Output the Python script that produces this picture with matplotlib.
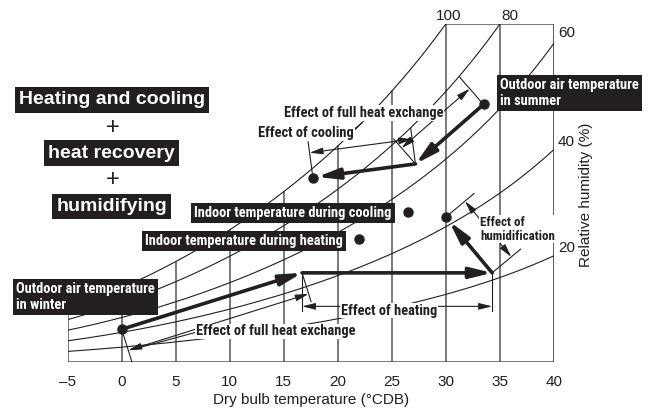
import numpy as np
import matplotlib
matplotlib.use('Agg')
import matplotlib.pyplot as plt
import matplotlib.font_manager as fm

# ---------------- data ----------------
temp_ticks = [-5, 0, 5, 10, 15, 20, 25, 30, 35, 40]
temp_labels = ['\u20135', '0', '5', '10', '15', '20', '25', '30', '35', '40']
sat_temp = [-5, 0, 5, 10, 15, 20, 25, 30, 35, 40]
sat_w = [4.32, 5.90, 8.08, 10.74, 13.73, 17.77, 21.57, 27.30, 34.09, 43.29]
rh_levels = [100, 80, 60, 40, 20]
rh_top_labels = ['100', '80']
rh_right_labels = ['60', '40', '20']
W_TOP = 27.3

winter_out = (0.0, 2.64)
winter_hx = (16.7, 7.2)
winter_heated = (34.3, 7.2)
winter_supply = (30.0, 11.7)
indoor_heat = (22.0, 9.9)
indoor_cool = (26.5, 12.1)
summer_out = (33.5, 20.8)
summer_hx = (27.2, 16.0)
summer_supply = (17.7, 14.9)

# ---------------- fonts ----------------
names = {f.name for f in fm.fontManager.ttflist}
NARROW = next((n for n in ['Roboto Condensed', 'Archivo Narrow', 'Liberation Sans Narrow', 'Liberation Sans'] if n in names), 'DejaVu Sans')
REG = 'Liberation Sans' if 'Liberation Sans' in names else 'DejaVu Sans'
INK = '#231f20'
GRID = '#555555'

W_PX, H_PX = 649, 412
fig = plt.figure(figsize=(W_PX / 100, H_PX / 100), dpi=100)
ax_l, ax_r, ax_b, ax_t = 67.7, 553.7, 362.0, 24.0
ax = fig.add_axes([ax_l / W_PX, 1 - ax_b / H_PX, (ax_r - ax_l) / W_PX, (ax_b - ax_t) / H_PX])
ax.set_xlim(-5, 40)
ax.set_ylim(0, W_TOP)
for s in ax.spines.values():
    s.set_visible(False)
ax.set_yticks([])
ax.set_xticks(temp_ticks)
ax.set_xticklabels(temp_labels, fontsize=11, family=REG, color=INK)
ax.tick_params(axis='x', length=0, pad=9)
ax.set_xlabel('Dry bulb temperature (\u00b0CDB)', fontsize=11, family=REG, color=INK, labelpad=3)

sx = (ax_r - ax_l) / 45.0
sy = (ax_b - ax_t) / W_TOP

wts = np.ones(len(sat_temp)); wts[7] = 10; wts[8] = 10
coef = np.polyfit(sat_temp, np.log(sat_w), 3, w=wts)
def sat(t):
    return np.exp(np.polyval(coef, t))

# frame and dry-bulb lines
ax.plot([-5, 40], [0, 0], color=GRID, lw=1.1, solid_capstyle='butt')
ax.plot([40, 40], [0, W_TOP], color=GRID, lw=1.1)
ax.plot([30, 40], [W_TOP, W_TOP], color=GRID, lw=1.1)
for t in temp_ticks:
    ax.plot([t, t], [0, min(sat(t), W_TOP)], color=GRID, lw=1.1)

# relative humidity curves
T = np.linspace(-5, 40, 901)
for rh in rh_levels:
    W = rh / 100 * sat(T)
    m = W <= W_TOP
    Tm, Wm = T[m], W[m]
    if not m.all():
        i = int(np.argmax(~m))
        tc = np.interp(W_TOP, [W[i - 1], W[i]], [T[i - 1], T[i]])
        Tm = np.append(Tm, tc); Wm = np.append(Wm, W_TOP)
    ax.plot(Tm, Wm, color=INK, lw=0.8)

# helpers in pixel space
def px(p):
    return np.array([p[0] * sx, p[1] * sy])
def dat(q):
    return (q[0] / sx, q[1] / sy)
def normal(p1, p2, side):
    d = px(p2) - px(p1)
    d = d / np.hypot(*d)
    return side * np.array([-d[1], d[0]])
def off(p, n, dist):
    return dat(px(p) + n * dist)

def thick(p0, p1, shrinkA=0, shrinkB=0):
    ax.annotate('', xy=p1, xytext=p0,
                arrowprops=dict(arrowstyle='-|>,head_length=1.3,head_width=0.32', lw=2.6,
                                color=INK, shrinkA=shrinkA, shrinkB=shrinkB, mutation_scale=10),
                zorder=5)

def thin(p0, p1):
    ax.plot([p0[0], p1[0]], [p0[1], p1[1]], color=INK, lw=0.8, zorder=4)

def dim(p0, p1):
    ax.annotate('', xy=p1, xytext=p0,
                arrowprops=dict(arrowstyle='<|-|>,head_length=0.8,head_width=0.2', lw=0.8,
                                color=INK, shrinkA=0, shrinkB=0, mutation_scale=10),
                zorder=4)

def dimension(p_a, p_b, side, ext_a, ext_b, d):
    n = normal(p_a, p_b, side)
    thin(p_a, off(p_a, n, ext_a))
    thin(p_b, off(p_b, n, ext_b))
    a, b = off(p_a, n, d), off(p_b, n, d)
    dim(a, b)
    return a, b

# dimension lines
dimension(summer_out, summer_hx, -1, 36, 33, 21)
dimension(summer_hx, summer_supply, -1, 36, 36, 25)
dimension(winter_out, winter_hx, -1, 37, 30, 22)
dimension(winter_hx, winter_heated, -1, 38, 38, 33.5)
dimension(winter_heated, winter_supply, -1, 37, 37, 25)

# thick process arrows
thick(summer_out, summer_hx, shrinkA=3)
thick(summer_hx, summer_supply, shrinkB=3)
thick(winter_out, winter_hx, shrinkA=3)
thick(winter_hx, winter_heated)
thick(winter_heated, winter_supply, shrinkB=4)

# points
pts = [winter_out, winter_supply, indoor_heat, indoor_cool, summer_out, summer_supply]
ax.plot([p[0] for p in pts], [p[1] for p in pts], 'o', color=INK, ms=6.5, zorder=6)

# ---------------- texts ----------------
def ftxt(x, y, s, **kw):
    return fig.text(x / W_PX, 1 - y / H_PX, s, **kw)
def fline(x0, y0, x1, y1):
    fig.add_artist(plt.Line2D([x0 / W_PX, x1 / W_PX], [1 - y0 / H_PX, 1 - y1 / H_PX], color=INK, lw=0.8, zorder=4))

box = dict(boxstyle='square,pad=0.22', fc=INK, ec='none')
white = dict(boxstyle='square,pad=0.05', fc='white', ec='none')

for (x, y, s) in [(112, 100, 'Heating and cooling'), (111.5, 153, 'heat recovery'), (111.5, 206.5, 'humidifying')]:
    ftxt(x, y, s, ha='center', va='center', fontsize=14, family=REG, weight='bold', color='white', bbox=box)
for y in (128, 180):
    ftxt(113, y, '+', ha='center', va='center', fontsize=17, family=REG, color=INK)

bkw = dict(fontsize=10.4, family=NARROW, weight='bold', color='white', bbox=box, zorder=7)
ftxt(500, 93, 'Outdoor air temperature\nin summer', ha='left', va='center', linespacing=1.1, **bkw)
ftxt(293, 213, 'Indoor temperature during cooling', ha='center', va='center', **bkw)
ftxt(244, 241, 'Indoor temperature during heating', ha='center', va='center', **bkw)
ftxt(16, 297, 'Outdoor air temperature\nin winter', ha='left', va='center', linespacing=1.1, **bkw)

ekw = dict(fontsize=10.4, family=NARROW, weight='bold', color=INK, bbox=white, zorder=7)
ftxt(363.5, 113, 'Effect of full heat exchange', ha='center', va='center', **ekw)
ftxt(306, 133.5, 'Effect of cooling', ha='center', va='center', **ekw)
ftxt(389, 310.5, 'Effect of heating', ha='center', va='center', **ekw)
ftxt(275.5, 331.5, 'Effect of full heat exchange', ha='center', va='center', **ekw)
ekw2 = dict(ekw); ekw2['fontsize'] = 9.3
ftxt(480, 229, 'Effect of\nhumidification', ha='left', va='center', linespacing=1.1, **ekw2)

# short leader lines
fline(353, 130, 362, 123)
fline(197, 332, 138, 348)

nkw = dict(fontsize=11, family=REG, color=INK)
for x, s in zip([448.5, 510], rh_top_labels):
    ftxt(x, 16, s, ha='center', va='center', **nkw)
for y, s in zip([33, 141.7, 248], rh_right_labels):
    ftxt(558, y, s, ha='left', va='center', **nkw)
ftxt(586, 195, 'Relative humidity (%)', ha='center', va='center', rotation=90, **nkw)

fig.savefig('out.png', dpi=100)
